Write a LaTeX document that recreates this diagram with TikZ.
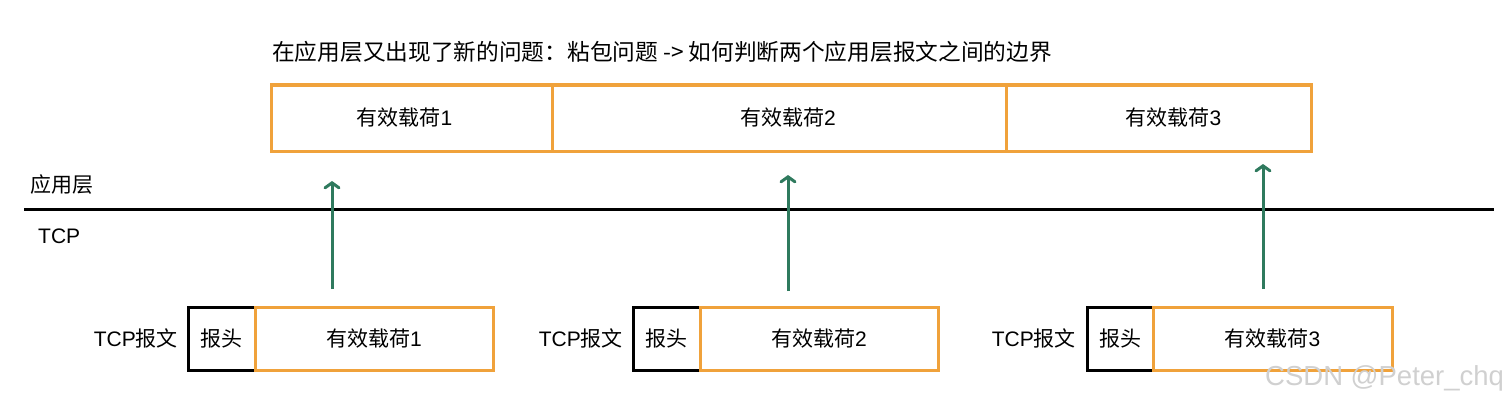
\documentclass[tikz,border=0pt]{standalone}
\usepackage{fontspec}
\setmainfont{Liberation Sans}
\newfontfamily\cjk{Noto Sans CJK SC}
\usetikzlibrary{arrows.meta}
\definecolor{boxorange}{HTML}{F0A23B}
\definecolor{arrowgreen}{HTML}{2F7A5E}
\definecolor{wmgray}{HTML}{D0D0D0}
\tikzset{
  txt/.style={inner sep=0pt, font=\fontsize{21pt}{24pt}\selectfont},
  paybox/.style={draw=boxorange, line width=3pt, inner sep=0pt, font=\fontsize{21pt}{24pt}\selectfont, minimum height=63pt},
  topbox/.style={paybox, minimum height=66pt},
  headbox/.style={draw=black, line width=3pt, inner sep=0pt, font=\fontsize{21pt}{24pt}\selectfont, minimum height=63pt, minimum width=67pt},
  uparrow/.style={draw=arrowgreen, line width=3pt, -{Straight Barb[length=5pt,width=14pt,line cap=round]}},
}
\begin{document}
\begin{tikzpicture}[x=1pt,y=-1pt]
\useasboundingbox (0,0) rectangle (1510,404);
% title
\node[txt, anchor=west, font=\fontsize{22.7pt}{26pt}\selectfont] (title) at (272,52) {\cjk 在应用层又出现了新的问题：粘包问题 -> 如何判断两个应用层报文之间的边界};
% top payloads
\node[topbox, minimum width=281pt] (t1) at (411.5,118) {\hspace*{-14pt}{\cjk 有效载荷}1};
\node[topbox, minimum width=454pt] (t2) at (779,118) {\hspace*{18pt}{\cjk 有效载荷}2};
\node[topbox, minimum width=305pt] (t3) at (1158.5,118) {\hspace*{30pt}{\cjk 有效载荷}3};
% layer labels and line
\node[txt, anchor=west] (app) at (30,185) {\cjk 应用层};
\node[txt, anchor=west] (tcp) at (38,236) {TCP};
\coordinate (lineL) at (24,209);
\coordinate (lineR) at (1494,209);
\draw[line width=3pt] (lineL) -- (lineR);
% bottom segments
\node[headbox] (h1) at (221.5,338.5) {\cjk 报头};
\node[paybox, minimum width=238pt] (p1) at (374,338.5) {{\cjk 有效载荷}1};
\node[txt, anchor=east] (l1) at (178,338.5) {TCP{\cjk 报文}};
\node[headbox] (h2) at (666.5,338.5) {\cjk 报头};
\node[paybox, minimum width=238pt] (p2) at (819,338.5) {{\cjk 有效载荷}2};
\node[txt, anchor=east] (l2) at (623,338.5) {TCP{\cjk 报文}};
\node[headbox, minimum width=66pt] (h3) at (1120,338.5) {\cjk 报头};
\node[paybox, minimum width=239pt] (p3) at (1272.5,338.5) {{\cjk 有效载荷}3};
\node[txt, anchor=east] (l3) at (1076,338.5) {TCP{\cjk 报文}};
% arrows
\coordinate (a1s) at (332,289);
\coordinate (a1e) at (332,181);
\coordinate (a2s) at (788,291);
\coordinate (a2e) at (788,175);
\coordinate (a3s) at (1263,289);
\coordinate (a3e) at (1263,164);
\draw[uparrow] (a1s) -- (a1e);
\draw[uparrow] (a2s) -- (a2e);
\draw[uparrow] (a3s) -- (a3e);
% watermark
\node[txt, anchor=west, text=wmgray, font=\fontsize{27.5pt}{30pt}\selectfont] (wm) at (1265,378) {CSDN @Peter\_chq};
\end{tikzpicture}
\end{document}
